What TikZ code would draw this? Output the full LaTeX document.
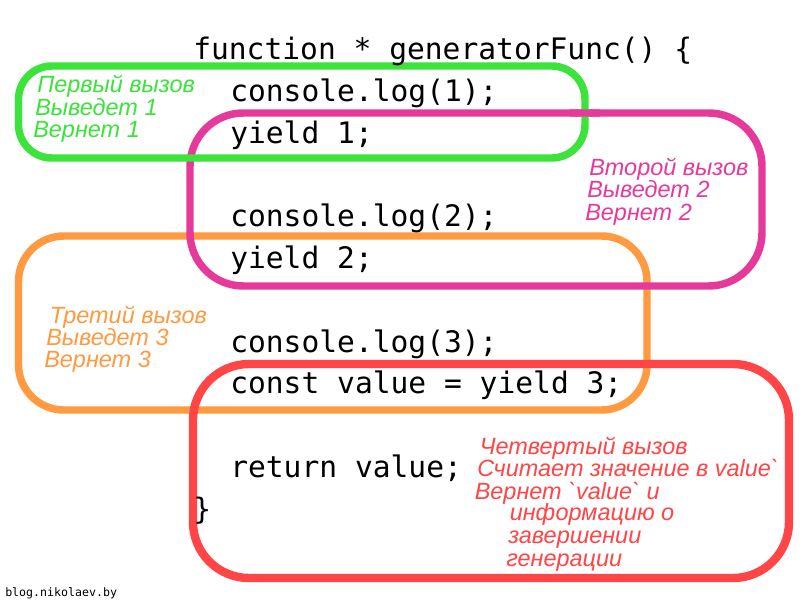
\documentclass[tikz,border=0pt]{standalone}
\usepackage{fontspec}
\newfontfamily\codefont{DejaVu Sans Mono}
\newfontfamily\lblfont{Liberation Sans}
\newfontfamily\wmfont{DejaVu Sans Mono}
\definecolor{cgreen}{HTML}{3BE33B}
\definecolor{cpink}{HTML}{E63A9A}
\definecolor{corange}{HTML}{FF9A40}
\definecolor{cred}{HTML}{FF4545}
\tikzset{
  codeline/.style={font={\codefont\fontsize{22.2}{26}\selectfont}, anchor=base west, inner sep=0pt, text=black},
  lbl/.style={font={\lblfont\itshape\fontsize{17.6}{20}\selectfont}, anchor=base west, inner sep=0pt},
  frame/.style={line width=5.6pt},
}
\begin{document}
\begin{tikzpicture}[x=0.75pt,y=-0.75pt]
\fill[white] (0,0) rectangle (800,600);
\useasboundingbox (0,0) rectangle (800,600);
% boxes
\draw[frame, corange, rounded corners=34] (18.5,236) rectangle (647,410);
\draw[frame, cpink, rounded corners=40] (190,113) rectangle (762,286);
\draw[frame, cgreen, rounded corners=25] (18.5,66) rectangle (585,158);
\begin{scope}
  \clip (570,100) rectangle (600,126);
  \draw[frame, cpink, rounded corners=40] (190,113) rectangle (762,286);
\end{scope}
\draw[line width=6.3pt, cred, rounded corners=42] (193,364) rectangle (789,578);
% code
\node[codeline] (l0) at (193,59.5) {function * generatorFunc() \{};
\node[codeline] (l1) at (230,101.3) {console.log(1);};
\node[codeline] (l2) at (230,143.1) {yield 1;};
\node[codeline] (l4) at (230,226.7) {console.log(2);};
\node[codeline] (l5) at (230,268.5) {yield 2;};
\node[codeline] (l7) at (230,352.1) {console.log(3);};
\node[codeline] (l8) at (230,393.9) {const value = yield 3;};
\node[codeline] (l10) at (230,477.5) {return value;};
\node[codeline] (l11) at (193,519.3) {\}};
% green labels
\node[lbl, text=cgreen] (g1) at (37,92.5) {Первый вызов};
\node[lbl, text=cgreen] (g2) at (35,115) {Выведет 1};
\node[lbl, text=cgreen] (g3) at (33,137.5) {Вернет 1};
% pink labels
\node[lbl, text=cpink] (p1) at (589,175) {Второй вызов};
\node[lbl, text=cpink] (p2) at (587,197.3) {Выведет 2};
\node[lbl, text=cpink] (p3) at (585,220) {Вернет 2};
% orange labels
\node[lbl, text=corange] (o1) at (49.5,323.3) {Третий вызов};
\node[lbl, text=corange] (o2) at (46,345) {Выведет 3};
\node[lbl, text=corange] (o3) at (44,367.3) {Вернет 3};
% red labels
\node[lbl, text=cred] (r1) at (479.5,454.3) {Четвертый вызов};
\node[lbl, text=cred] (r2) at (477,476) {Считает значение в value`};
\node[lbl, text=cred] (r3) at (474.5,499) {Вернет `value` и};
\node[lbl, text=cred] (r4) at (509.5,520.5) {информацию о};
\node[lbl, text=cred] (r5) at (508,543.3) {завершении};
\node[lbl, text=cred] (r6) at (506,566.5) {генерации};
% watermark
\node[font={\wmfont\fontsize{8.7}{10}\selectfont}, anchor=base west, inner sep=0pt] (wm) at (5,596) {blog.nikolaev.by};
\end{tikzpicture}
\end{document}
